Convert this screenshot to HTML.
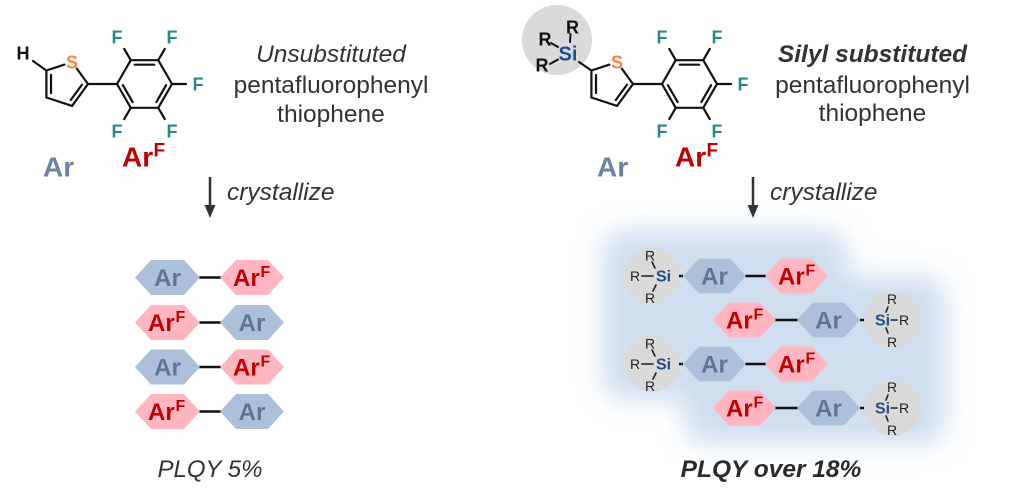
<!DOCTYPE html>
<html><head><meta charset="utf-8"><style>
html,body{margin:0;padding:0;background:#fff;}
svg{display:block;}
text{font-family:"Liberation Sans",Arial,sans-serif;}
</style></head><body>
<svg width="1024" height="498" viewBox="0 0 1024 498" xmlns="http://www.w3.org/2000/svg">
<defs>
<filter id="blur" x="-30%" y="-30%" width="160%" height="160%"><feGaussianBlur stdDeviation="13"/></filter>
</defs>
<rect width="1024" height="498" fill="#fff"/>

<!-- glow -->
<g filter="url(#blur)" fill="#cfdff0">
<rect x="602" y="230" width="246" height="170" rx="22"/>
<rect x="684" y="276" width="262" height="168" rx="22"/>
</g>

<!-- ===== LEFT MOLECULE ===== -->
<g stroke="#111" stroke-width="2.2" fill="none" stroke-linecap="round">
<line x1="46.4" y1="70.5" x2="64.5" y2="64.6"/>
<line x1="76.8" y1="68.6" x2="88" y2="84"/>
<line x1="88" y1="84" x2="72.1" y2="105.9"/>
<line x1="72.1" y1="105.9" x2="46.4" y2="97.5"/>
<line x1="46.4" y1="97.5" x2="46.4" y2="70.5"/>
<line x1="51" y1="75" x2="51" y2="93"/>
<line x1="82" y1="84.6" x2="70.8" y2="100"/>
<line x1="46.4" y1="70.5" x2="33" y2="61"/>
<line x1="88" y1="84" x2="117" y2="84"/>
<polygon points="117,84 130.75,60.2 158.25,60.2 172,84 158.25,107.8 130.75,107.8" stroke-linejoin="round"/>
<line x1="134.75" y1="64.7" x2="154.25" y2="64.7"/>
<line x1="166.1" y1="85.2" x2="156.35" y2="102.1"/>
<line x1="132.65" y1="102.1" x2="122.9" y2="85.2"/>
<line x1="130.75" y1="60.2" x2="124.25" y2="48.9"/>
<line x1="158.25" y1="60.2" x2="164.75" y2="48.9"/>
<line x1="172" y1="84" x2="186" y2="84"/>
<line x1="158.25" y1="107.8" x2="164.75" y2="119.1"/>
<line x1="130.75" y1="107.8" x2="124.25" y2="119.1"/>
</g>
<g font-weight="bold" font-size="18" text-anchor="middle">
<text x="23" y="59.5" fill="#111">H</text>
<text x="72" y="68.5" fill="#ff7f3f">S</text>
<g fill="#2a8a8a">
<text x="117" y="43.3">F</text>
<text x="172" y="43.3">F</text>
<text x="198" y="90.5">F</text>
<text x="117" y="137.5">F</text>
<text x="172" y="137.5">F</text>
</g>
</g>
<text x="43" y="176.7" font-size="28" font-weight="bold" fill="#6b82a6">Ar</text>
<text x="122" y="166.7" font-size="28" font-weight="bold" fill="#c00000">Ar</text>
<text x="153.5" y="156.6" font-size="19" font-weight="bold" fill="#c00000">F</text>

<g font-size="24.5" fill="#333" text-anchor="middle">
<text x="331" y="62" font-style="italic">Unsubstituted</text>
<text x="331" y="93">pentafluorophenyl</text>
<text x="331" y="122">thiophene</text>
</g>

<!-- left arrow -->
<line x1="210" y1="177" x2="210" y2="208" stroke="#333" stroke-width="2.5"/>
<polygon points="204.5,205 215.5,205 210,218" fill="#333"/>
<text x="227" y="200" font-size="24.5" font-style="italic" fill="#333">crystallize</text>

<!-- ===== RIGHT MOLECULE ===== -->
<circle cx="557" cy="40" r="35" fill="#dadada"/>
<g transform="translate(545,0)">
<g stroke="#111" stroke-width="2.2" fill="none" stroke-linecap="round">
<line x1="46.4" y1="70.5" x2="64.5" y2="64.6"/>
<line x1="76.8" y1="68.6" x2="88" y2="84"/>
<line x1="88" y1="84" x2="72.1" y2="105.9"/>
<line x1="72.1" y1="105.9" x2="46.4" y2="97.5"/>
<line x1="46.4" y1="97.5" x2="46.4" y2="70.5"/>
<line x1="51" y1="75" x2="51" y2="93"/>
<line x1="82" y1="84.6" x2="70.8" y2="100"/>
<line x1="88" y1="84" x2="117" y2="84"/>
<polygon points="117,84 130.75,60.2 158.25,60.2 172,84 158.25,107.8 130.75,107.8" stroke-linejoin="round"/>
<line x1="134.75" y1="64.7" x2="154.25" y2="64.7"/>
<line x1="166.1" y1="85.2" x2="156.35" y2="102.1"/>
<line x1="132.65" y1="102.1" x2="122.9" y2="85.2"/>
<line x1="130.75" y1="60.2" x2="124.25" y2="48.9"/>
<line x1="158.25" y1="60.2" x2="164.75" y2="48.9"/>
<line x1="172" y1="84" x2="186" y2="84"/>
<line x1="158.25" y1="107.8" x2="164.75" y2="119.1"/>
<line x1="130.75" y1="107.8" x2="124.25" y2="119.1"/>
</g>
<g font-weight="bold" font-size="18" text-anchor="middle">
<text x="72" y="68.5" fill="#ff7f3f">S</text>
<g fill="#2a8a8a">
<text x="117" y="43.3">F</text>
<text x="172" y="43.3">F</text>
<text x="198" y="90.5">F</text>
<text x="117" y="137.5">F</text>
<text x="172" y="137.5">F</text>
</g>
</g>
</g>
<g stroke="#111" stroke-width="2" stroke-linecap="round">
<line x1="591.4" y1="70.5" x2="579" y2="62"/>
<line x1="570.5" y1="34" x2="570" y2="42"/>
<line x1="551" y1="43" x2="558" y2="47"/>
<line x1="550" y1="64" x2="558" y2="59.5"/>
</g>
<g font-weight="bold" text-anchor="middle">
<text x="568" y="60.5" font-size="20" fill="#1c4f91">Si</text>
<text x="572.5" y="33.5" font-size="18" fill="#111">R</text>
<text x="545" y="45.5" font-size="18" fill="#111">R</text>
<text x="542" y="71.5" font-size="18" fill="#111">R</text>
</g>
<text x="597" y="176.7" font-size="28" font-weight="bold" fill="#6b82a6">Ar</text>
<text x="675" y="166.7" font-size="28" font-weight="bold" fill="#c00000">Ar</text>
<text x="706.5" y="156.6" font-size="19" font-weight="bold" fill="#c00000">F</text>

<g font-size="24.5" fill="#333" text-anchor="middle">
<text x="872.5" y="62" font-style="italic" font-weight="bold">Silyl substituted</text>
<text x="872.5" y="93">pentafluorophenyl</text>
<text x="872.5" y="121">thiophene</text>
</g>

<line x1="753" y1="177" x2="753" y2="208" stroke="#333" stroke-width="2.5"/>
<polygon points="747.5,205 758.5,205 753,218" fill="#333"/>
<text x="770" y="200" font-size="24.5" font-style="italic" fill="#333">crystallize</text>

<!-- ===== LEFT STACK ===== -->
<g stroke="#111" stroke-width="2.5">
<line x1="199" y1="277.5" x2="221" y2="277.5"/>
<line x1="199" y1="322.5" x2="221" y2="322.5"/>
<line x1="199" y1="367" x2="221" y2="367"/>
<line x1="199" y1="411.5" x2="221" y2="411.5"/>
</g>
<g>
<polygon points="135,277.5 151,260 184,260 200,277.5 184,295 151,295" fill="#adc0da"/>
<polygon points="220,277.5 236,260 268,260 284,277.5 268,295 236,295" fill="#ffb6c1"/>
<polygon points="135,322.5 151,305 184,305 200,322.5 184,340 151,340" fill="#ffb6c1"/>
<polygon points="220,322.5 236,305 268,305 284,322.5 268,340 236,340" fill="#adc0da"/>
<polygon points="135,367 151,349.5 184,349.5 200,367 184,384.5 151,384.5" fill="#adc0da"/>
<polygon points="220,367 236,349.5 268,349.5 284,367 268,384.5 236,384.5" fill="#ffb6c1"/>
<polygon points="135,411.5 151,394 184,394 200,411.5 184,429 151,429" fill="#ffb6c1"/>
<polygon points="220,411.5 236,394 268,394 284,411.5 268,429 236,429" fill="#adc0da"/>
</g>
<g font-weight="bold" font-size="24">
<text x="167.5" y="286" text-anchor="middle" fill="#5f7596">Ar</text>
<text x="233" y="286" fill="#c00000">Ar</text><text x="260.5" y="277" font-size="16" fill="#c00000">F</text>
<text x="148" y="331" fill="#c00000">Ar</text><text x="175.5" y="322" font-size="16" fill="#c00000">F</text>
<text x="252" y="331" text-anchor="middle" fill="#5f7596">Ar</text>
<text x="167.5" y="375.5" text-anchor="middle" fill="#5f7596">Ar</text>
<text x="233" y="375.5" fill="#c00000">Ar</text><text x="260.5" y="366.5" font-size="16" fill="#c00000">F</text>
<text x="148" y="420" fill="#c00000">Ar</text><text x="175.5" y="411" font-size="16" fill="#c00000">F</text>
<text x="252" y="420" text-anchor="middle" fill="#5f7596">Ar</text>
</g>

<text x="210" y="477" font-size="24" font-style="italic" fill="#333" text-anchor="middle">PLQY 5%</text>

<!-- ===== RIGHT STACK ===== -->
<g id="rowA">
<circle cx="652" cy="276" r="28" fill="#dadada"/>
<g stroke="#222" stroke-width="1.6" stroke-linecap="round">
<line x1="652" y1="262" x2="655" y2="268"/>
<line x1="642" y1="276" x2="653" y2="276"/>
<line x1="656" y1="285" x2="653" y2="291"/>
</g>
<g stroke="#111" stroke-width="2.5">
<line x1="679" y1="276" x2="683" y2="276"/>
<line x1="745" y1="276" x2="766" y2="276"/>
</g>
<text x="650" y="260.5" font-size="14" fill="#222" text-anchor="middle">R</text>
<text x="635" y="281" font-size="14" fill="#222" text-anchor="middle">R</text>
<text x="663.5" y="281.5" font-size="16" font-weight="bold" fill="#1f4e8c" text-anchor="middle">Si</text>
<text x="650" y="303" font-size="14" fill="#222" text-anchor="middle">R</text>
<polygon points="683,276 699,258.5 730,258.5 746,276 730,293.5 699,293.5" fill="#adc0da"/>
<polygon points="765,276 781,258.5 812,258.5 828,276 812,293.5 781,293.5" fill="#ffb6c1"/>
<text x="714.5" y="284.5" font-size="24" font-weight="bold" fill="#5f7596" text-anchor="middle">Ar</text>
<text x="778" y="284.5" font-size="24" font-weight="bold" fill="#c00000">Ar</text>
<text x="805.5" y="275.5" font-size="16" font-weight="bold" fill="#c00000">F</text>
</g>
<use href="#rowA" transform="translate(0,88)"/>

<g id="rowB">
<circle cx="893" cy="320" r="28" fill="#dadada"/>
<g stroke="#222" stroke-width="1.6" stroke-linecap="round">
<line x1="888" y1="307" x2="886" y2="312"/>
<line x1="891" y1="320" x2="897" y2="320"/>
<line x1="886" y1="328" x2="888" y2="333"/>
</g>
<g stroke="#111" stroke-width="2.5">
<line x1="775" y1="320" x2="798" y2="320"/>
<line x1="860" y1="320" x2="864" y2="320"/>
</g>
<text x="892" y="304" font-size="14" fill="#222" text-anchor="middle">R</text>
<text x="904" y="325" font-size="14" fill="#222" text-anchor="middle">R</text>
<text x="882.5" y="325.5" font-size="16" font-weight="bold" fill="#1f4e8c" text-anchor="middle">Si</text>
<text x="892" y="347" font-size="14" fill="#222" text-anchor="middle">R</text>
<polygon points="713,320 729,302.5 760,302.5 776,320 760,337.5 729,337.5" fill="#ffb6c1"/>
<polygon points="797,320 813,302.5 844,302.5 860,320 844,337.5 813,337.5" fill="#adc0da"/>
<text x="726" y="328.5" font-size="24" font-weight="bold" fill="#c00000">Ar</text>
<text x="753.5" y="319.5" font-size="16" font-weight="bold" fill="#c00000">F</text>
<text x="828.5" y="328.5" font-size="24" font-weight="bold" fill="#5f7596" text-anchor="middle">Ar</text>
</g>
<use href="#rowB" transform="translate(0,88)"/>

<text x="771" y="477" font-size="24.5" font-style="italic" font-weight="bold" fill="#2b2b2b" text-anchor="middle">PLQY over 18%</text>
</svg>
</body></html>
